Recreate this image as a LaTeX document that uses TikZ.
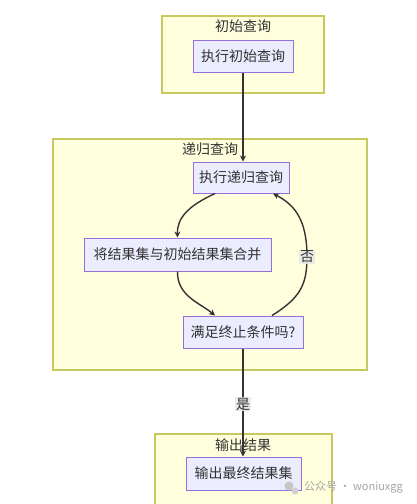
\documentclass[tikz,border=0pt]{standalone}
\usepackage{fontspec}
\setmainfont{Noto Sans CJK SC}
\usetikzlibrary{arrows.meta,positioning}

\definecolor{clfill}{HTML}{FFFFDE}
\definecolor{cldraw}{HTML}{C8C860}
\definecolor{ndfill}{HTML}{ECECFF}
\definecolor{nddraw}{HTML}{9370DB}
\definecolor{ink}{HTML}{333333}
\definecolor{lblbg}{HTML}{E8E8E8}

\tikzset{
  cluster/.style={draw=cldraw, fill=clfill, line width=1.2pt, rectangle, inner sep=0pt},
  ctitle/.style={text=ink, font=\fontsize{14}{16}\selectfont, inner sep=0pt},
  stepbox/.style={draw=nddraw, fill=ndfill, line width=1pt, rectangle, inner sep=0pt,
    text=ink, font=\fontsize{14}{16}\selectfont},
  flow/.style={draw=ink, line width=1.4pt, -{Stealth[length=6pt,width=6pt]}},
  elabel/.style={fill=lblbg, fill opacity=0.9, text opacity=1, text=ink, inner sep=1pt,
    font=\fontsize{14}{16}\selectfont}
}

\begin{document}
\begin{tikzpicture}[x=1pt, y=-1pt]
  \clip (0,0) rectangle (417,504);
  \fill[white] (0,0) rectangle (417,504);

  % clusters
  \node[cluster, minimum width=162pt, minimum height=77pt] (cinit) at (243,54.5) {};
  \node[cluster, minimum width=314pt, minimum height=231pt] (crec) at (210,254.5) {};
  \node[cluster, minimum width=177pt, minimum height=80pt] (cout) at (243.5,474) {};
  \node[ctitle] (tinit) at (243,26) {初始查询};
  \node[ctitle] (trec) at (210,149) {递归查询};
  \node[ctitle] (tout) at (243,445) {输出结果};

  % steps
  \begin{scope}[every node/.style={stepbox}]
    \node[minimum width=100pt, minimum height=32pt] (init) at (243,56) {执行初始查询};
    \node[minimum width=96pt, minimum height=31pt] (rec) at (241,177.5) {执行递归查询};
    \node[minimum width=187pt, minimum height=33pt] (merge) at (177.5,254.5) {将结果集与初始结果集合并};
    \node[minimum width=120pt, minimum height=32pt] (chk) at (243,332) {满足终止条件吗?};
    \node[minimum width=115pt, minimum height=33pt] (out) at (243.5,473.5) {输出最终结果集};
  \end{scope}

  % connectors
  \coordinate (loop) at (307,257);
  \draw[flow] (init.south) -- (init.south |- rec.north);
  \draw[flow] ([xshift=-26pt]rec.south) .. controls (188,206) and (177,218) .. (merge.north);
  \draw[flow] (merge.south) .. controls (177,296) and (200,303) .. ([xshift=-28pt]chk.north);
  \draw[flow] ([xshift=29pt]chk.north) .. controls (300,298) and (307,285) .. (loop)
    .. controls (307,220) and (295,205) .. ([xshift=32pt]rec.south);
  \node[elabel] (no) at (loop) {否};
  \draw[flow] (chk.south) -- (chk.south |- out.north);
  \node[elabel] (yes) at (243,404) {是};

  % watermark
  \fill[gray!45] (289,486) circle (4.5pt);
  \fill[gray!35] (295,491) circle (3.5pt);
  \node[text=gray!70, font=\fontsize{11}{13}\selectfont, anchor=west, inner sep=0pt] (wm) at (304,487) {公众号 · woniuxgg};
\end{tikzpicture}
\end{document}
